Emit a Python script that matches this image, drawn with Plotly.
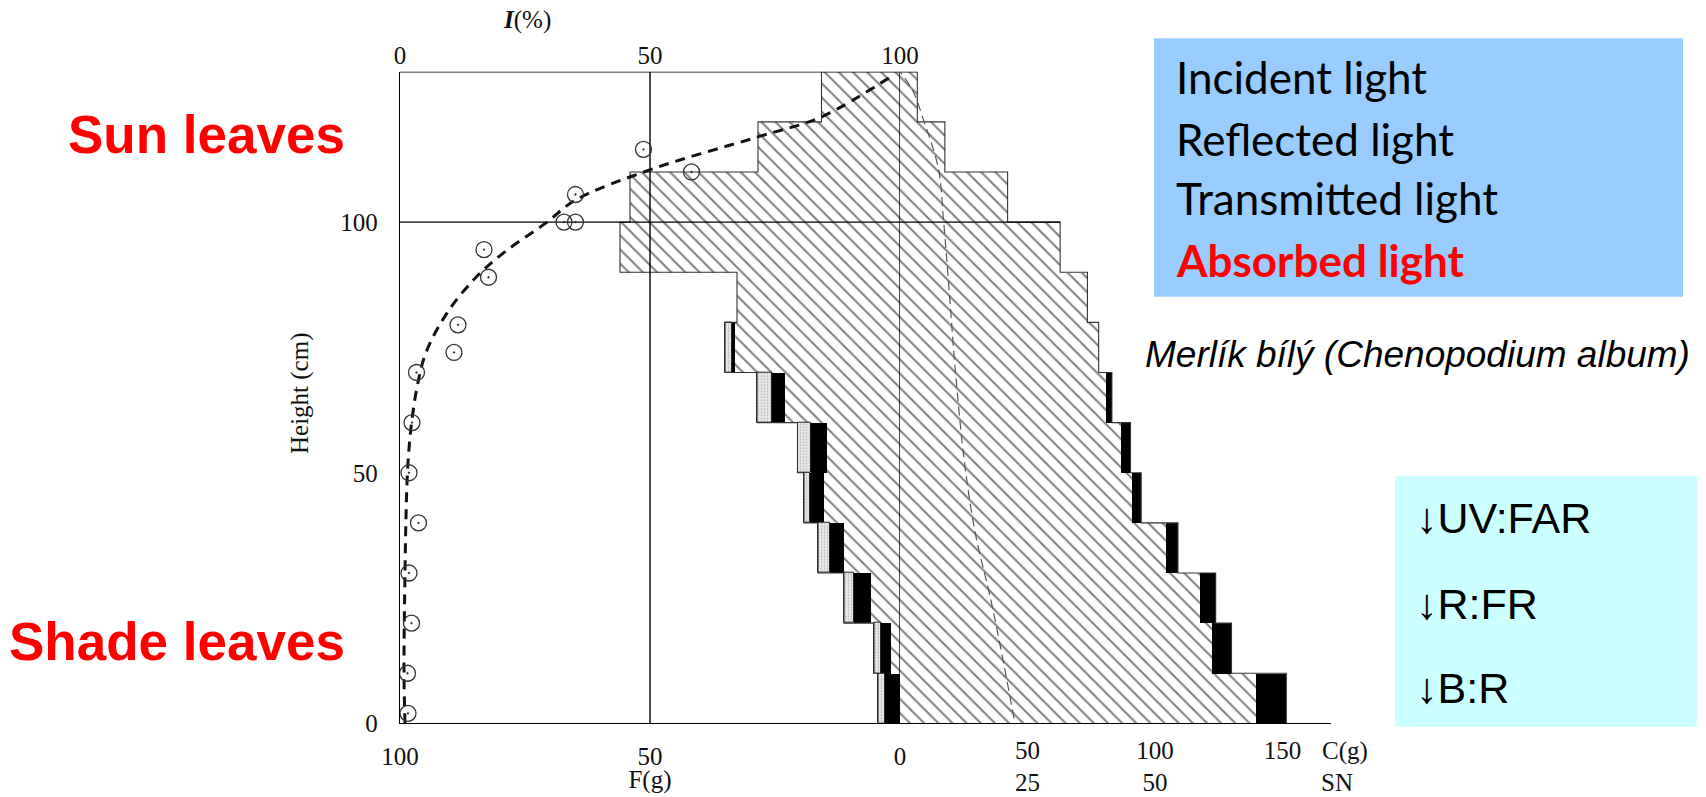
import plotly.graph_objects as go

W, H = 1706, 797

# Canopy layers (cm)
layer_edges = [0, 10, 20, 30, 40, 50, 60, 70, 80, 90, 100, 110, 120, 130]

# Left side, F (g): hatched leaf mass, outer edge of black band, outer edge of stippled band
f_hatched = [0.0, 1.9, 5.8, 11.3, 15.2, 14.6, 23.0, 33.0, 32.6, 56.0, 54.0, 28.4, 15.7]
f_black = [3.1, 3.8, 9.2, 14.1, 18.0, 17.8, 25.6, 33.7, None, None, None, None, None]
f_stipple = [4.4, 5.2, 11.2, 16.4, 19.2, 20.5, 28.6, 35.0, None, None, None, None, None]

# Right side, C (g): hatched stem mass and outer edge of black band
c_hatched = [139.5, 122.5, 117.5, 104.5, 90.8, 86.8, 80.9, 77.9, 73.5, 62.8, 42.2, 17.6, 6.8]
c_black = [151.5, 130.0, 123.8, 109.0, 94.6, 90.4, 83.1, None, None, None, None, None, None]

# Measured relative irradiance I (%) with height
obs_i = [1.6, 1.5, 2.3, 1.8, 3.7, 1.8, 2.4, 3.3, 10.8, 11.6, 17.7, 16.8, 32.8, 35.1, 35.1, 58.3, 48.7]
obs_h = [2, 10, 20, 30, 40, 50, 60, 70, 74, 79.5, 89, 94.5, 100, 100, 105.5, 110, 114.5]

# Fitted irradiance profile
fit_i = [1.0, 0.8, 1.0, 1.3, 1.6, 2.2, 3.4, 5.2, 9.5, 15.2, 20.9, 29.4, 35.1, 50.5, 71.6, 84.3, 98.9]
fit_h = [0, 10, 30, 45, 52, 59, 67, 74, 82, 89, 94, 100, 104.4, 110.6, 117, 121, 129.5]

# Thin dashed profile on the C scale
thin_c = [44.7, 40.9, 35.6, 29.5, 25.3, 21.6, 19.6, 17.0, 15.0, 9.0, 5.2, 0.0]
thin_h = [1, 11.3, 24.7, 38, 52, 71, 84.2, 100.8, 110.8, 120.7, 126, 130]

# Axis tick labels
f_ticks = [100, 50, 0]
f_ticktext = ["100", "50", "0"]
f_unit_tick = [50]
f_unit_text = ["F(g)"]
c_ticks = [50, 100, 150]
c_ticktext = ["50", "100", "150"]
sn_ticks = [50, 100]
sn_ticktext = ["25", "50"]
i_ticks = [0, 50, 100]
h_ticks = [0, 50, 100]

SERIF = "Liberation Serif"
SANS = "Liberation Sans"
INK = "#111111"

mids = [(a + b) / 2 for a, b in zip(layer_edges[:-1], layer_edges[1:])]
widths = [b - a for a, b in zip(layer_edges[:-1], layer_edges[1:])]

hatch = dict(color="white", line=dict(width=0),
             pattern=dict(shape="\\", size=10, solidity=0.2, fgcolor="black", bgcolor="white"))
stipple = dict(color="#e4e4e4", line=dict(width=1, color="#222222"),
               pattern=dict(shape=".", size=3, solidity=0.35, fgcolor="#8a8a8a", bgcolor="#ececec"))
solid_black = dict(color="black", line=dict(width=0))

fig = go.Figure()


def band(axis, start, end, marker):
    ys, xs, bs, ws = [], [], [], []
    for m, w, a, b in zip(mids, widths, start, end):
        if a is None or b is None:
            continue
        ys.append(m); bs.append(a); xs.append(b - a); ws.append(w)
    fig.add_trace(go.Bar(orientation="h", y=ys, x=xs, base=bs, width=ws, marker=marker,
                         xaxis=axis, yaxis="y", showlegend=False, hoverinfo="skip"))


zeros = [0.0] * len(mids)
# hatched masses on both sides of the stem axis
band("x", zeros, f_hatched, hatch)
band("x2", zeros, c_hatched, hatch)
# black and stippled bands
band("x", f_hatched, f_black, solid_black)
band("x", f_black, f_stipple, stipple)
band("x2", c_hatched, c_black, solid_black)


def line(axis, xs, ys, width=1.4, color="black", dash=None, shape="linear"):
    fig.add_trace(go.Scatter(x=xs, y=ys, mode="lines", xaxis=axis, yaxis="y",
                             line=dict(color=color, width=width, dash=dash, shape=shape),
                             showlegend=False, hoverinfo="skip"))


def step_outline(outer):
    xs, ys = [], []
    for i, v in enumerate(outer):
        xs += [v, v]
        ys += [layer_edges[i], layer_edges[i + 1]]
    return xs, ys


left_outer = [s if s is not None else h for s, h in zip(f_stipple, f_hatched)]
right_outer = [b if b is not None else h for b, h in zip(c_black, c_hatched)]

lx, ly = step_outline(left_outer)
line("x", lx, ly, width=1.1, color="#333333")
rx, ry = step_outline(right_outer)
line("x2", rx, ry, width=1.1, color="#333333")

top = layer_edges[-1]
# frame: top edge and the 100 cm line
line("x", [100, 0], [top, top])
line("x2", [0, right_outer[-1]], [top, top])
line("x", [100, 0], [100, 100])
line("x2", [0, right_outer[layer_edges.index(100) - 1]], [100, 100])
# vertical reference lines at 50 and 0
line("x", [50, 50], [0, top])
line("x", [0, 0], [0, top])

# thin dashed profile
line("x2", thin_c, thin_h, width=1.2, color="#555555", dash="9px,5px", shape="spline")

# fitted irradiance curve
line("x3", fit_i, fit_h, width=3, color="#111111", dash="10px,7px", shape="spline")

# measured irradiance points
fig.add_trace(go.Scatter(x=obs_i, y=obs_h, mode="markers", xaxis="x3", yaxis="y",
                         marker=dict(symbol="circle-open-dot", size=16, color="#333333",
                                     line=dict(width=1.3, color="#333333")),
                         showlegend=False, hoverinfo="skip"))

x0, x1 = 400, 1331
x_dom = [x0 / W, x1 / W]
y_dom = [1 - 723.4 / H, 1 - 71.7 / H]

f_px = 5.0      # pixels per g of F
c_px = 2.55     # pixels per g of C
center = 900
f_range = [(center - x0) / f_px, -(x1 - center) / f_px]
c_range = [-(center - x0) / c_px, (x1 - center) / c_px]
i_range = [0, (x1 - x0) / f_px]

tickfont = dict(family=SERIF, size=25, color=INK)
plain = dict(showgrid=False, zeroline=False, ticks="", tickfont=tickfont, automargin=False)

fig.update_layout(
    width=W, height=H, margin=dict(l=0, r=0, t=0, b=0, autoexpand=False),
    paper_bgcolor="white", plot_bgcolor="white", barmode="overlay", bargap=0,
    xaxis=dict(domain=x_dom, range=f_range, tickvals=f_ticks, ticktext=f_ticktext,
               showline=True, linecolor="black", linewidth=1.4, ticklabelstandoff=10, **plain),
    xaxis2=dict(overlaying="x", range=c_range, tickvals=c_ticks, ticktext=c_ticktext,
                showline=False, side="bottom", ticklabelstandoff=10, **plain),
    xaxis3=dict(overlaying="x", range=i_range, tickvals=i_ticks, side="top",
                showline=False, ticklabelstandoff=2, **plain),
    xaxis4=dict(overlaying="x", range=f_range, tickvals=f_unit_tick, ticktext=f_unit_text,
                showline=False, side="bottom", ticklabelstandoff=39, **plain),
    xaxis5=dict(overlaying="x", range=c_range, tickvals=sn_ticks, ticktext=sn_ticktext,
                showline=False, side="bottom", ticklabelstandoff=42, **plain),
    yaxis=dict(domain=y_dom, range=[0, top], tickvals=h_ticks,
               showline=True, linecolor="black", linewidth=1.4, ticklabelstandoff=16, **plain),
)

# the unit / SN rows need their axes present in the figure
fig.add_trace(go.Scatter(x=[None], y=[None], xaxis="x4", yaxis="y", showlegend=False, hoverinfo="skip"))
fig.add_trace(go.Scatter(x=[None], y=[None], xaxis="x5", yaxis="y", showlegend=False, hoverinfo="skip"))


def px(x):
    return x / W


def py(y):
    return 1 - y / H


def note(text, x, y, font, xanchor="center", angle=0):
    fig.add_annotation(text=text, x=px(x), y=py(y), xref="paper", yref="paper",
                       xanchor=xanchor, yanchor="middle", showarrow=False,
                       font=font, textangle=angle)


serif25 = dict(family=SERIF, size=25, color=INK)
note("<b><i>I</i></b>(%)", 527, 20, serif25)
note("C(g)", 1345, 751, serif25)
note("SN", 1337, 782, serif25)
note("Height (cm)", 300, 394, dict(family=SERIF, size=25, color=INK), angle=-90)

red_bold = dict(family=SANS, size=53, color="#ff0000")
note("<b>Sun leaves</b>", 347, 134, red_bold, xanchor="right")
note("<b>Shade leaves</b>", 347, 641, red_bold, xanchor="right")

# light components panel
fig.add_shape(type="rect", xref="paper", yref="paper", x0=px(1154), x1=px(1683),
              y0=py(296.7), y1=py(38.3), fillcolor="#99ccff", line=dict(width=0))
box_font = dict(family="Lato", size=44, color="black")
for label, yc in zip(["Incident light", "Reflected light", "Transmitted light"], [77, 138.6, 198]):
    note(label, 1174, yc, box_font, xanchor="left")
note("<b>Absorbed light</b>", 1174, 260.3, dict(family="Lato", size=44, color="#ff0000"), xanchor="left")

note("<i>Merlík bílý (Chenopodium album)</i>", 1143, 354, dict(family=SANS, size=37, color="black"),
     xanchor="left")

# spectral ratio panel
fig.add_shape(type="rect", xref="paper", yref="paper", x0=px(1395), x1=px(1697),
              y0=py(726.7), y1=py(476), fillcolor="#ccffff", line=dict(width=0))
ratio_font = dict(family=SANS, size=43, color="black")
for label, yc in zip(["↓UV:FAR", "↓R:FR", "↓B:R"], [518, 604, 688]):
    note(label, 1414, yc, ratio_font, xanchor="left")

fig.write_html("out.html")
